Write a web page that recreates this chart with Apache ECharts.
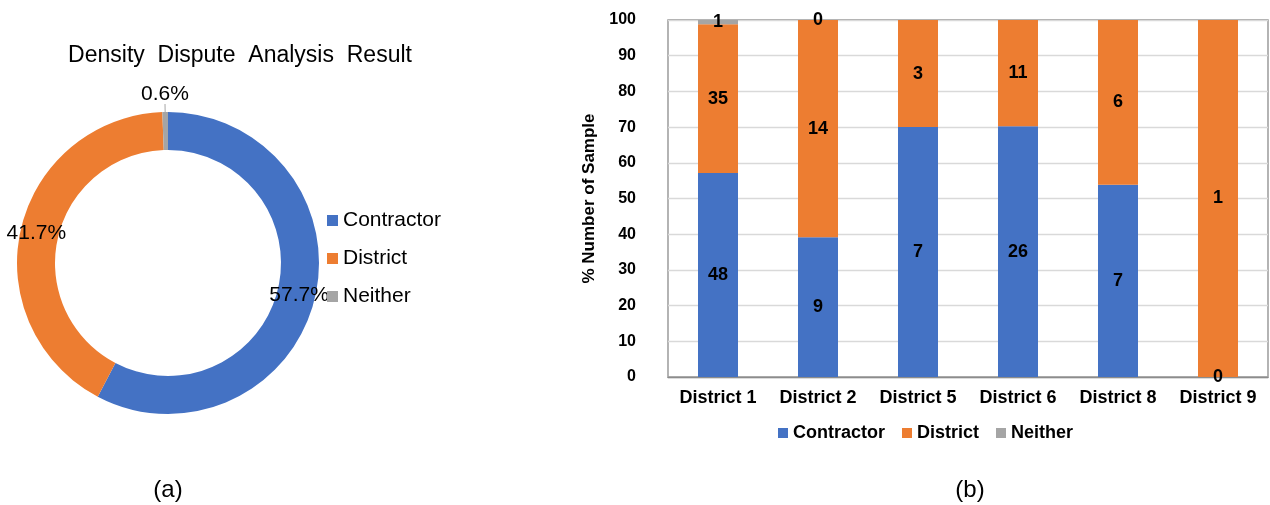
<!DOCTYPE html>
<html>
<head>
<meta charset="utf-8">
<script src="https://cdn.jsdelivr.net/npm/echarts@6/dist/echarts.min.js"></script>
<style>
html,body{margin:0;padding:0;background:#fff;}
#chart{width:1270px;height:505px;}
</style>
</head>
<body>
<div id="chart"></div>
<script>
// ---- Data ----
var pieTitle = 'Density  Dispute  Analysis  Result';
var groups = ['Contractor', 'District', 'Neither'];
var pieShares = [57.7, 41.7, 0.6];
var categories = ['District 1', 'District 2', 'District 5', 'District 6', 'District 8', 'District 9'];
var contractorCounts = [48, 9, 7, 26, 7, 0];
var districtCounts = [35, 14, 3, 11, 6, 1];
var neitherCounts = [1, 0, null, null, null, null];
var yTicks = [0, 10, 20, 30, 40, 50, 60, 70, 80, 90, 100];
var yAxisTitle = '% Number of Sample';

// ---- Build ----
var colors = ['#4472C4', '#ED7D31', '#A5A5A5'];
var FONT = "'Liberation Sans', Arial, sans-serif";
var countSets = [contractorCounts, districtCounts, neitherCounts];
var totals = categories.map(function (c, i) {
  return (contractorCounts[i] || 0) + (districtCounts[i] || 0) + (neitherCounts[i] || 0);
});

var pieData = groups.map(function (g, i) {
  var item = { name: g, value: pieShares[i], itemStyle: { color: colors[i] } };
  if (i < 2) {
    item.label = { position: 'inside' };
    item.labelLine = { show: false };
  }
  return item;
});

var barSeries = groups.map(function (g, k) {
  return {
    type: 'bar',
    name: g,
    stack: 'total',
    xAxisIndex: 0,
    yAxisIndex: 0,
    barWidth: 40,
    itemStyle: { color: colors[k] },
    data: categories.map(function (c, i) {
      var n = countSets[k][i];
      if (n === null) return { value: '-', count: null };
      return { value: n / totals[i] * 100, count: n };
    }),
    label: {
      show: true,
      position: 'inside',
      color: '#000',
      fontWeight: 'bold',
      fontSize: 18,
      fontFamily: FONT,
      formatter: function (p) { return p.data.count === null ? '' : String(p.data.count); }
    },
    emphasis: { disabled: true }
  };
});

var chart = echarts.init(document.getElementById('chart'), null, { renderer: 'canvas' });
chart.setOption({
  animation: false,
  color: colors,
  textStyle: { fontFamily: FONT },
  legend: [
    {
      orient: 'vertical',
      left: 322,
      top: 205,
      itemWidth: 11,
      itemHeight: 11,
      itemGap: 17,
      icon: 'rect',
      data: groups,
      selectedMode: false,
      textStyle: { fontSize: 21, color: '#000', fontFamily: FONT }
    },
    {
      orient: 'horizontal',
      left: 773,
      top: 419,
      itemWidth: 10,
      itemHeight: 10,
      itemGap: 17,
      icon: 'rect',
      data: groups,
      selectedMode: false,
      textStyle: { fontSize: 18, fontWeight: 'bold', color: '#000', fontFamily: FONT }
    }
  ],
  grid: [{ left: 668, right: 2, top: 20, bottom: 128, show: true, borderColor: '#8C8C8C', borderWidth: 1.3, containLabel: false }],
  xAxis: [{
    type: 'category',
    gridIndex: 0,
    data: categories,
    axisTick: { show: false },
    axisLine: { show: true, lineStyle: { color: '#8C8C8C', width: 1.3 } },
    axisLabel: { interval: 0, color: '#000', fontWeight: 'bold', fontSize: 18, margin: 12, fontFamily: FONT }
  }],
  yAxis: [{
    type: 'value',
    gridIndex: 0,
    min: yTicks[0],
    max: yTicks[yTicks.length - 1],
    interval: yTicks[1] - yTicks[0],
    name: yAxisTitle,
    nameLocation: 'middle',
    nameGap: 70,
    nameTextStyle: { color: '#000', fontWeight: 'bold', fontSize: 17, fontFamily: FONT },
    axisLine: { show: false },
    axisTick: { show: false },
    splitLine: { lineStyle: { color: '#D9D9D9', width: 1.3 } },
    axisLabel: { color: '#000', fontWeight: 'bold', fontSize: 16, margin: 32, fontFamily: FONT }
  }],
  series: [
    {
      type: 'pie',
      center: [168, 263],
      radius: [113, 151],
      startAngle: 90,
      clockwise: true,
      data: pieData,
      emphasis: { disabled: true },
      label: {
        show: true,
        position: 'outside',
        color: '#000',
        fontSize: 21,
        fontFamily: FONT,
        formatter: function (p) { return p.value.toFixed(1) + '%'; }
      },
      labelLine: { show: true, length: 8, length2: 0, lineStyle: { color: '#A5A5A5', width: 1 } },
      labelLayout: function (p) {
        if (p.dataIndex === 2 && p.labelLinePoints) {
          var pts = p.labelLinePoints;
          return {
            x: pts[1][0],
            y: pts[1][1] + 1,
            align: 'center',
            verticalAlign: 'bottom',
            labelLinePoints: [pts[0], pts[1]]
          };
        }
        return {};
      }
    }
  ].concat(barSeries),
  graphic: [
    { type: 'text', x: 240, y: 56, style: { text: pieTitle, fontSize: 23, fontFamily: FONT, fill: '#000', align: 'center', verticalAlign: 'middle' } },
    { type: 'text', x: 168, y: 490, style: { text: '(a)', fontSize: 24, fontFamily: FONT, fill: '#000', align: 'center', verticalAlign: 'middle' } },
    { type: 'text', x: 970, y: 490, style: { text: '(b)', fontSize: 24, fontFamily: FONT, fill: '#000', align: 'center', verticalAlign: 'middle' } }
  ]
});
</script>
</body>
</html>
